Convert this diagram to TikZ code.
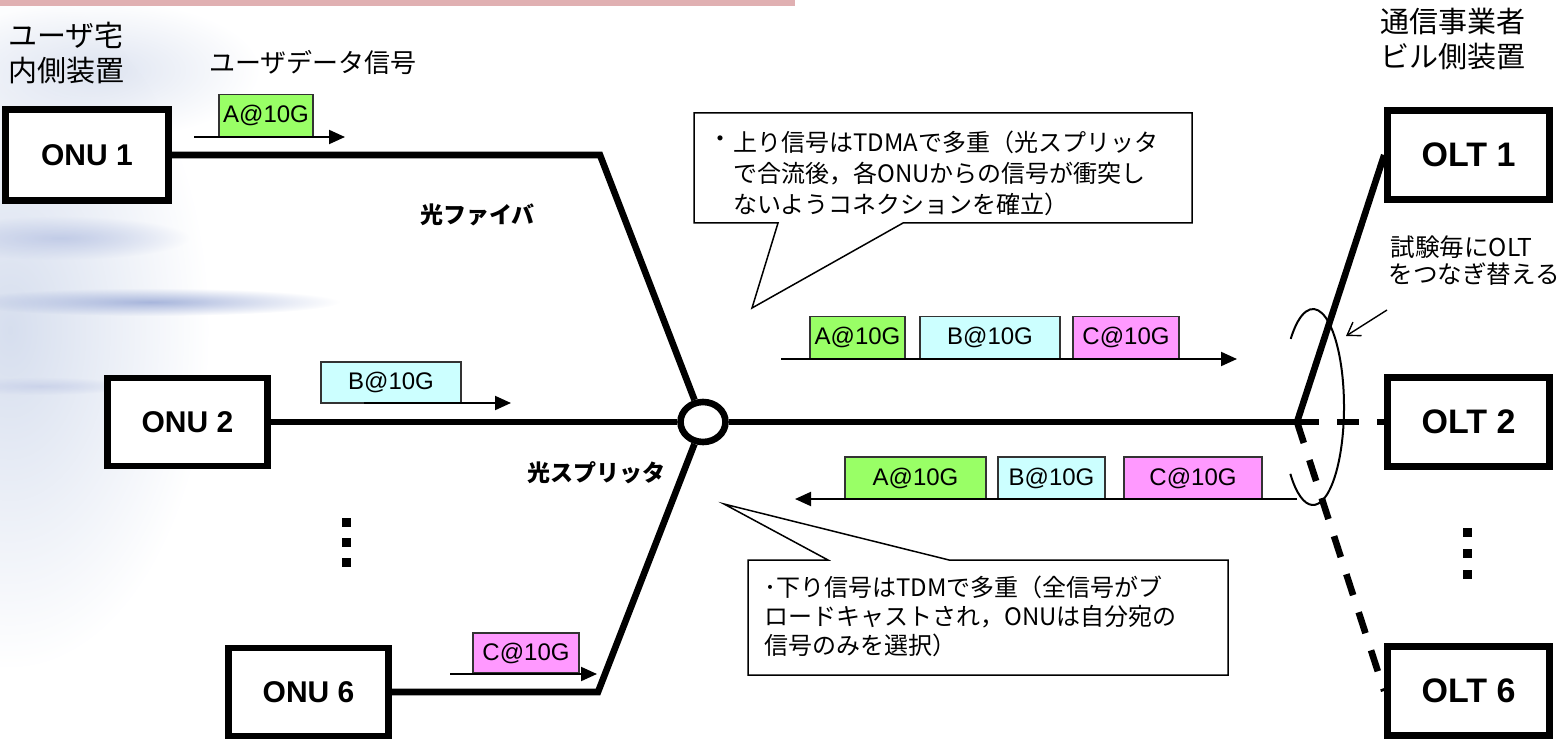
\documentclass[tikz,border=0pt]{standalone}
\usepackage{fontspec}
\setmainfont{Liberation Sans}
\newfontfamily\jp{Noto Sans CJK JP}
\usetikzlibrary{shapes.geometric,arrows.meta,fadings}
\definecolor{pgreen}{HTML}{99FF66}
\definecolor{pcyan}{HTML}{CCFFFF}
\definecolor{ppink}{HTML}{FF99FF}
\definecolor{topbar}{HTML}{E0B0B2}
\definecolor{bgtint}{HTML}{D6DEEE}
\definecolor{streak}{HTML}{A8B6DC}
\tikzfading[name=fadeR, left color=transparent!0, right color=transparent!100]
\tikzfading[name=blob, inner color=transparent!0, outer color=transparent!100]
\begin{document}
\begin{tikzpicture}[x=0.5pt,y=-0.5pt,
  dev/.style={draw, line width=3.3pt, fill=white, inner sep=0},
  onu/.style={dev, font=\bfseries\fontsize{15}{18}\selectfont, minimum width=80pt, minimum height=44pt},
  olt/.style={dev, font=\bfseries\fontsize{17}{20}\selectfont, minimum width=81pt, minimum height=44.5pt},
  pkt/.style={draw=black!80, line width=0.7pt, font=\fontsize{12}{14}\selectfont, inner sep=0, minimum height=21pt},
  fiber/.style={line width=3.3pt},
  dfiber/.style={line width=3.3pt, dash pattern=on 11pt off 9pt},
  sig/.style={line width=1pt, -{Triangle[length=8pt,width=7pt]}},
  hlabel/.style={font=\jp\fontsize{14.5}{17}\selectfont, anchor=west, inner sep=0},
  mlabel/.style={font=\jp\fontsize{13}{16}\selectfont, anchor=west, inner sep=0},
  slabel/.style={font=\jp\fontsize{12.3}{15}\selectfont, anchor=west, inner sep=0},
  blabel/.style={font=\jp\bfseries\fontsize{11.5}{14}\selectfont, anchor=west, inner sep=0},
  callout/.style={draw, fill=white, line width=0.75pt, line join=miter},
  ctext/.style={font=\jp\fontsize{12}{15.5}\selectfont, inner sep=0, align=left},
]
\useasboundingbox (0,0) rectangle (1567,743);
% background decoration
\fill[bgtint, path fading=blob] (10,330) ellipse [x radius=200, y radius=340];
\fill[bgtint!80!white, path fading=blob] (100,70) ellipse [x radius=160, y radius=70];
\fill[streak!70!white, path fading=blob] (60,238) ellipse [x radius=130, y radius=22];
\fill[streak, path fading=blob] (150,302) ellipse [x radius=190, y radius=14];
\fill[streak!60!white, path fading=blob] (40,386) ellipse [x radius=90, y radius=9];
\fill[topbar] (0,0) rectangle (795,6);

% devices
\node[onu, minimum width=81.5pt, minimum height=45.5pt] (onu1) at (87,155) {ONU 1};
\node[onu, minimum height=44pt] (onu2) at (187.5,422) {ONU 2};
\node[onu, minimum height=44pt] (onu6) at (308.5,692) {ONU 6};
\node[olt] (olt1) at (1468.5,155) {OLT 1};
\node[olt] (olt2) at (1468.5,422) {OLT 2};
\node[olt] (olt6) at (1468.5,691) {OLT 6};
\node[ellipse, draw, line width=3.3pt, fill=white, minimum width=22.5pt, minimum height=20pt, inner sep=0] (sp) at (703,422) {};

% fibers
\coordinate (k1) at (600,155);
\coordinate (k6) at (598,692);
\coordinate (J) at (1297,422);
\draw[fiber] (onu1.east) -- (k1) -- (sp);
\draw[fiber] (onu2.east) -- (sp.west);
\draw[fiber] (onu6.east) -- (k6) -- (sp);
\draw[fiber] (sp.east) -- (J);
\draw[fiber] (J) -- (olt1.west);
\draw[dfiber] (J) -- (olt2.west);
\draw[dfiber] (J) -- (olt6.west);

% dots
\fill (341.5,517.5) rectangle ++(9,9);
\fill (341.5,537.5) rectangle ++(9,9);
\fill (341.5,557.5) rectangle ++(9,9);
\fill (1462.5,527.5) rectangle ++(9,9);
\fill (1462.5,548.5) rectangle ++(9,9);
\fill (1462.5,569.5) rectangle ++(9,9);

% packets at ONUs
\node[pkt, fill=pgreen, minimum width=47pt] (a1) at (266,115.5) {A@10G};
\coordinate (a1s) at (194,137); \coordinate (a1e) at (345,137);
\draw[sig] (a1s) -- (a1e);
\node[pkt, fill=pcyan, minimum width=70pt, minimum height=20.5pt] (b2) at (391,382.5) {B@10G};
\coordinate (b2s) at (364,403); \coordinate (b2e) at (511,403);
\draw[sig] (b2s) -- (b2e);
\node[pkt, fill=ppink, minimum width=53pt, minimum height=20pt] (c6) at (526,653) {C@10G};
\coordinate (c6s) at (450,674); \coordinate (c6e) at (597,674);
\draw[sig] (c6s) -- (c6e);

% upstream packets
\node[pkt, fill=pgreen, minimum width=47.5pt] (au) at (857.5,337.5) {A@10G};
\node[pkt, fill=pcyan, minimum width=70pt] (bu) at (990,337.5) {B@10G};
\node[pkt, fill=ppink, minimum width=53pt] (cu) at (1126,337.5) {C@10G};
\coordinate (us) at (781,359); \coordinate (ue) at (1237,359);
\draw[sig] (us) -- (ue);

% downstream packets
\node[pkt, fill=pgreen, minimum width=70.5pt] (ad) at (915.5,478) {A@10G};
\node[pkt, fill=pcyan, minimum width=53.5pt] (bd) at (1051.5,478) {B@10G};
\node[pkt, fill=ppink, minimum width=69pt] (cd) at (1193,478) {C@10G};
\coordinate (ds) at (1297,499); \coordinate (de) at (795,499);
\draw[sig] (ds) -- (de);

% selection loop and note
\draw[line width=1pt] (1313,407) ++(137:31 and 98) arc[start angle=137, end angle=-136, x radius=31, y radius=98];
\node[slabel] (s1) at (1390,247) {試験毎にOLT};
\node[slabel] (s2) at (1388,274) {をつなぎ替える};
\coordinate (ta) at (1387,310); \coordinate (tb) at (1346,336);
\draw[line width=0.7pt, -{Straight Barb[length=6pt,width=8pt]}] (ta) -- (tb);

% callouts
\draw[callout] (694,113) -- (1192,113) -- (1192,223) -- (903,223) -- (752,308) -- (778,223) -- (694,223) -- cycle;
\node[ctext] (ub) at (720,142) {・};
\node[ctext, anchor=west] (ut) at (733,173.5) {上り信号はTDMAで多重（光スプリッタ\\で合流後，各ONUからの信号が衝突し\\ないようコネクションを確立）};
\draw[callout] (748,560) -- (828,560) -- (724,504) -- (949,560) -- (1228,560) -- (1228,675) -- (748,675) -- cycle;
\node[ctext, anchor=west, font=\jp\fontsize{12}{14.5}\selectfont] (dt) at (764,616) {･下り信号はTDMで多重（全信号がブ\\ロードキャストされ，ONUは自分宛の\\信号のみを選択）};

% labels
\node[hlabel] (u1) at (8,35) {ユーザ宅};
\node[hlabel] (u2) at (8,71) {内側装置};
\node[mlabel] (ud) at (209,62) {ユーザデータ信号};
\node[hlabel] (t1) at (1380,22) {通信事業者};
\node[hlabel] (t2) at (1380,57) {ビル側装置};
\node[blabel] (fb) at (420,215) {光ファイバ};
\node[blabel] (spl) at (527,473) {光スプリッタ};
\end{tikzpicture}
\end{document}
